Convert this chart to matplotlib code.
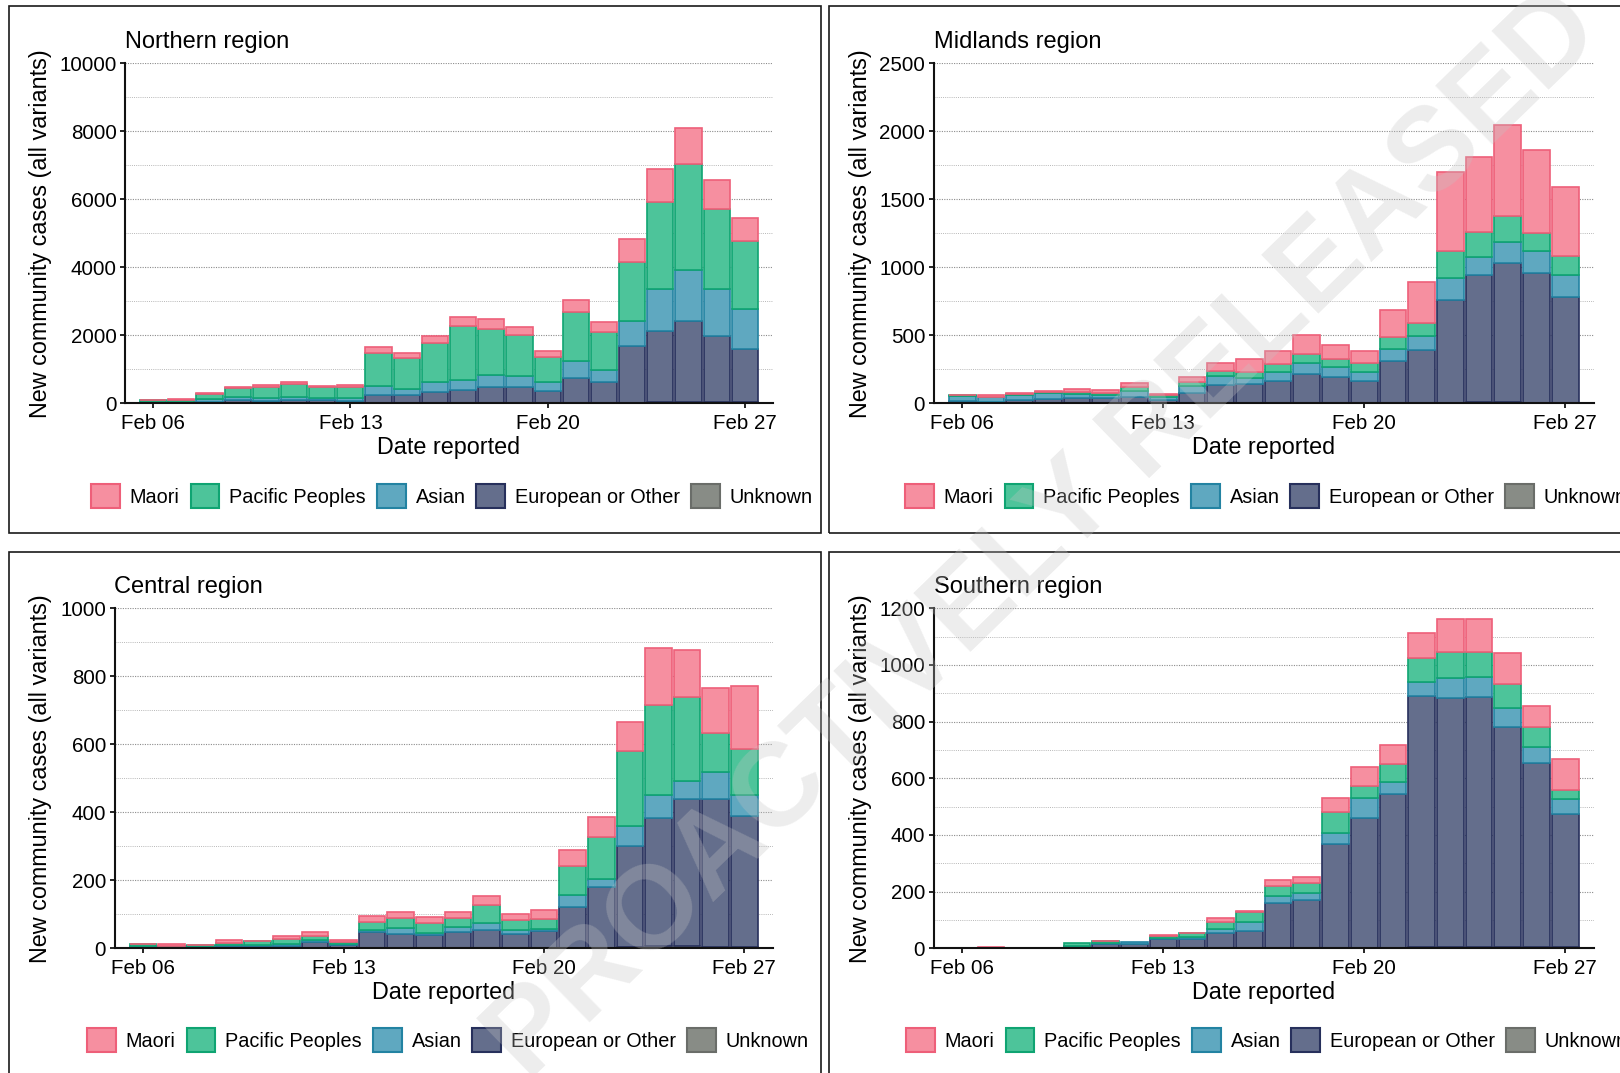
import numpy as np
import pandas as pd
import matplotlib
matplotlib.use("Agg")
import matplotlib.pyplot as plt
import matplotlib.dates as mdates
from matplotlib.patches import Patch, Rectangle

plt.rcParams['font.family'] = ['Liberation Sans', 'DejaVu Sans']

W, H = 1620, 1073

dates = pd.date_range("2022-02-06", "2022-02-27", freq="D")
groups = ["Maori", "Pacific Peoples", "Asian", "European or Other", "Unknown"]
fills = ["#F68FA0", "#4DC49A", "#5FA8C0", "#646E8C", "#888C86"]
edges = ["#EE5F79", "#0FA472", "#2383A2", "#27305C", "#6A6D69"]

# Northern region
north_maori = [10, 10, 49, 49, 49, 58, 50, 69, 187, 147, 205, 265, 294, 235, 157, 333, 294, 696, 951, 1069, 853, 696]
north_pacific = [55, 65, 147, 245, 323, 373, 303, 313, 960, 911, 1147, 1598, 1352, 1216, 754, 1461, 1128, 1726, 2578, 3098, 2352, 2000]
north_asian = [15, 20, 68, 98, 89, 98, 69, 98, 265, 177, 275, 294, 334, 334, 246, 500, 343, 745, 1216, 1509, 1383, 1167]
north_euro = [20, 25, 50, 96, 76, 96, 95, 66, 250, 230, 337, 384, 482, 462, 366, 723, 627, 1656, 2107, 2382, 1960, 1573]
north_unknown = [0, 0, 0, 2, 2, 2, 3, 3, 5, 5, 6, 8, 8, 8, 6, 12, 10, 20, 30, 40, 30, 25]

# Midlands region
mid_maori = [5, 10, 6, 5, 20, 22, 30, 12, 37, 64, 93, 93, 140, 100, 88, 194, 299, 580, 551, 670, 610, 502]
mid_pacific = [5, 5, 6, 5, 12, 15, 27, 10, 29, 36, 49, 61, 66, 61, 66, 88, 98, 204, 184, 188, 137, 145]
mid_asian = [37, 32, 39, 49, 32, 20, 44, 24, 52, 64, 42, 61, 78, 69, 61, 91, 100, 159, 132, 160, 157, 157]
mid_euro = [17, 12, 25, 29, 39, 39, 49, 25, 77, 134, 141, 166, 214, 194, 165, 308, 392, 755, 936, 1023, 956, 779]
mid_unknown = [0, 0, 0, 0, 0, 0, 0, 0, 1, 1, 1, 1, 2, 2, 2, 3, 3, 5, 8, 6, 5, 5]

# Central region
cen_maori = [1, 5, 1, 8, 1, 10, 11, 5, 18, 20, 17, 17, 29, 18, 27, 49, 57, 86, 165, 139, 133, 185]
cen_pacific = [5, 1, 3, 6, 10, 12, 11, 7, 22, 29, 30, 25, 52, 29, 27, 84, 125, 219, 266, 246, 116, 135]
cen_asian = [2, 1, 1, 2, 4, 6, 7, 3, 5, 17, 6, 15, 19, 13, 7, 35, 23, 59, 68, 54, 80, 61]
cen_euro = [5, 6, 5, 7, 7, 8, 18, 9, 48, 41, 37, 48, 54, 40, 50, 120, 178, 299, 375, 431, 435, 387]
cen_unknown = [0, 0, 0, 0, 0, 0, 0, 0, 1, 1, 1, 1, 1, 1, 1, 2, 2, 3, 8, 7, 3, 3]

# Southern region
south_maori = [0, 4, 0, 0, 0, 2, 0, 4, 2, 12, 4, 20, 24, 47, 67, 66, 86, 114, 117, 109, 76, 108]
south_pacific = [0, 0, 0, 0, 10, 5, 0, 8, 14, 27, 35, 36, 35, 74, 42, 64, 85, 92, 88, 85, 68, 32]
south_asian = [0, 0, 0, 0, 1, 5, 7, 4, 6, 12, 33, 24, 23, 40, 71, 44, 50, 70, 71, 66, 58, 53]
south_euro = [2, 0, 1, 1, 8, 15, 15, 32, 33, 55, 61, 160, 170, 366, 459, 542, 888, 882, 885, 778, 651, 470]
south_unknown = [0, 0, 0, 0, 0, 0, 0, 0, 0, 0, 0, 1, 1, 2, 2, 2, 3, 3, 3, 3, 3, 4]


def px_axes(fig, left, right, top, bottom):
    return fig.add_axes([left / W, 1 - bottom / H, (right - left) / W, (bottom - top) / H])


def draw_panel(ax, title, series, ymax, step):
    base = np.zeros(len(dates))
    for name, fc, ec, vals in reversed(list(zip(groups, fills, edges, series))):
        vals = np.array(vals, dtype=float)
        ax.bar(dates, vals, width=0.93, bottom=base, color=fc, edgecolor=ec,
               linewidth=np.where(vals > 0, 1.2, 0), zorder=2)
        base += vals

    ax.set_xlim(dates[0] - pd.Timedelta(days=1), dates[-1] + pd.Timedelta(days=1))
    ax.set_ylim(0, ymax)
    ax.set_yticks(np.arange(0, ymax + 1, step))
    ax.set_yticks(np.arange(step / 2, ymax, step), minor=True)
    ax.set_axisbelow(True)
    ax.grid(axis='y', which='major', linestyle=(0, (1, 1.2)), color='#8c8c8c', lw=0.8)
    ax.grid(axis='y', which='minor', linestyle=(0, (1, 1.2)), color='#b8b8b8', lw=0.7)
    ax.set_xticks(dates[::7])
    ax.xaxis.set_major_formatter(mdates.DateFormatter('%b %d'))

    for s in ['top', 'right']:
        ax.spines[s].set_visible(False)
    for s in ['left', 'bottom']:
        ax.spines[s].set_linewidth(1.5)
        ax.spines[s].set_color('#111111')
    ax.tick_params(which='minor', length=0)
    ax.tick_params(axis='y', which='major', labelsize=14.8, length=3.5, width=1.2, pad=2.5)
    ax.tick_params(axis='x', which='major', labelsize=14.8, length=3.5, width=1.2, pad=4.5)

    ax.set_title(title, loc='left', fontsize=17, pad=11)
    ax.set_xlabel('Date reported', fontsize=16.8)
    ax.xaxis.label.set_va('center')
    ax.xaxis.set_label_coords(0.5, -0.13)


fig = plt.figure(figsize=(W / 100, H / 100), dpi=100)

# panel frames
for x0, y0, x1, y1 in [(9, 6, 821, 533), (829, 6, 1660, 533), (9, 552, 821, 1110), (829, 552, 1660, 1110)]:
    fig.add_artist(Rectangle((x0 / W, 1 - y1 / H), (x1 - x0) / W, (y1 - y0) / H,
                             transform=fig.transFigure, fill=False, edgecolor='#1a1a1a', lw=1.2))

panels = [
    ("Northern region", [north_maori, north_pacific, north_asian, north_euro, north_unknown], 10000, 2000,
     (125, 773, 63.3, 403.3), 41, 91, 496),
    ("Midlands region", [mid_maori, mid_pacific, mid_asian, mid_euro, mid_unknown], 2500, 500,
     (933.5, 1594, 63.3, 403.3), 861, 905, 496),
    ("Central region", [cen_maori, cen_pacific, cen_asian, cen_euro, cen_unknown], 1000, 200,
     (114.5, 773, 608.3, 948.3), 41, 87, 1040),
    ("Southern region", [south_maori, south_pacific, south_asian, south_euro, south_unknown], 1200, 200,
     (933.5, 1594, 608.3, 948.3), 861, 906, 1040),
]

handles = [Patch(facecolor=fc, edgecolor=ec, linewidth=1.5, label=g) for g, fc, ec in zip(groups, fills, edges)]

for title, series, ymax, step, (l, r, t, b), ylab_x, leg_x, leg_y in panels:
    ax = px_axes(fig, l, r, t, b)
    draw_panel(ax, title, series, ymax, step)
    fig.text(ylab_x / W, 1 - (t + b) / 2 / H, 'New community cases (all variants)',
             rotation=90, ha='center', va='center', fontsize=16.8)
    fig.legend(handles=handles, loc='center left', bbox_to_anchor=(leg_x / W, 1 - leg_y / H),
               ncol=5, frameon=False, fontsize=14.3, handlelength=1.45, handleheight=1.45,
               handletextpad=0.5, columnspacing=0.55, borderpad=0, borderaxespad=0)

# watermark
fig.text(0.645, 0.5, "PROACTIVELY RELEASED", rotation=44.2, fontsize=85, fontweight='bold',
         color='#c4c4c4', alpha=0.3, ha='center', va='center', rotation_mode='anchor', zorder=10)

fig.savefig('out.png', dpi=100)
